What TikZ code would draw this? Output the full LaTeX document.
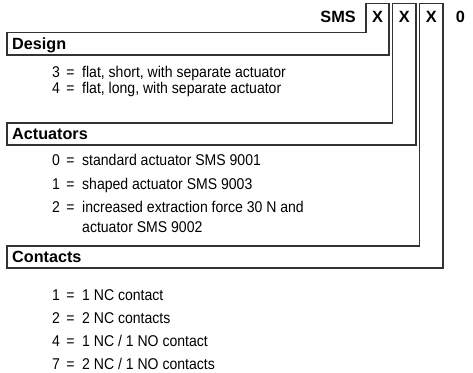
\documentclass[tikz,border=0pt]{standalone}
\usepackage{fontspec}
\setmainfont{Liberation Sans}
\newfontfamily\bodyfont{Liberation Sans}[FakeStretch=0.9]
\begin{document}
\begin{tikzpicture}[x=1pt,y=-1pt,
  frame/.style={draw=black!80,line width=1.1pt,line join=miter},
  head/.style={font=\fontsize{16.3}{18}\selectfont\bfseries,inner sep=0pt,anchor=base},
  lbl/.style={font=\fontsize{16.2}{18}\selectfont\bfseries,inner sep=0pt,anchor=base west},
  itm/.style={font=\bodyfont\fontsize{15.6}{20}\selectfont,inner sep=0pt,anchor=base west}]
\useasboundingbox (0,0) rectangle (473,372);
% frames
\draw[frame] (366,3.5) -- (389,3.5) -- (389,55) -- (7,55) -- (7,32.5) -- (366,32.5) -- cycle;
\draw[frame] (392.5,3.5) -- (416,3.5) -- (416,145) -- (7,145) -- (7,123) -- (392.5,123) -- cycle;
\draw[frame] (419.5,3.5) -- (443,3.5) -- (443,268) -- (7,268) -- (7,246) -- (419.5,246) -- cycle;
% header
\node[head,anchor=base east] (sms) at (356,22.7) {SMS};
\node[head] (x1) at (377.5,22.7) {X};
\node[head] (x2) at (404.2,22.7) {X};
\node[head] (x3) at (431.2,22.7) {X};
\node[head] (zero) at (460.5,22.7) {0};
% labels
\node[lbl] (design) at (12,49.5) {Design};
\node[lbl] (act) at (12,139.5) {Actuators};
\node[lbl] (con) at (12,262.5) {Contacts};
% items
\newcommand\eq[1]{\makebox[30pt][l]{#1\hspace{6.5pt}=}}
\node[itm] (d3) at (52,77) {\eq{3}flat, short, with separate actuator};
\node[itm] (d4) at (52,93) {\eq{4}flat, long, with separate actuator};
\node[itm] (a0) at (52,165.5) {\eq{0}standard actuator SMS 9001};
\node[itm] (a1) at (52,189) {\eq{1}shaped actuator SMS 9003};
\node[itm] (a2) at (52,212.5) {\eq{2}increased extraction force 30 N and};
\node[itm] (a2b) at (82,232) {actuator SMS 9002};
\node[itm] (c1) at (52,300.5) {\eq{1}1 NC contact};
\node[itm] (c2) at (52,323.5) {\eq{2}2 NC contacts};
\node[itm] (c4) at (52,346.5) {\eq{4}1 NC / 1 NO contact};
\node[itm] (c7) at (52,369.5) {\eq{7}2 NC / 1 NO contacts};
\end{tikzpicture}
\end{document}
